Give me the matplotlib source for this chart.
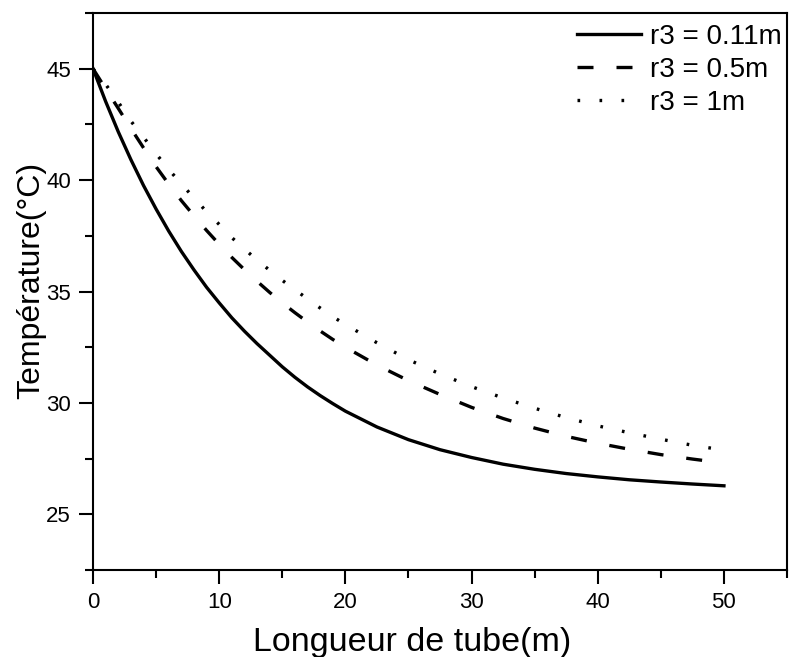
import matplotlib
matplotlib.use("Agg")
import matplotlib.pyplot as plt
from matplotlib.ticker import MultipleLocator

plt.rcParams['font.family'] = ['Liberation Sans', 'DejaVu Sans']

# tube length (m)
longueur = [0, 1, 2, 3, 4, 5, 6, 7, 8, 9, 10, 11, 12, 13, 14, 15, 16, 17, 18, 19, 20,
            22.5, 25, 27.5, 30, 32.5, 35, 37.5, 40, 42.5, 45, 47.5, 50]

# temperature (°C)
t_r011 = [45.0, 43.53, 42.17, 40.92, 39.76, 38.7, 37.71, 36.8, 35.97, 35.19, 34.49,
          33.82, 33.22, 32.66, 32.14, 31.62, 31.15, 30.72, 30.33, 29.97, 29.63,
          28.92, 28.35, 27.9, 27.55, 27.25, 27.02, 26.83, 26.68, 26.55, 26.45, 26.36, 26.28]
t_r05 = [45.0, 44.1, 43.22, 42.32, 41.45, 40.6, 39.82, 39.08, 38.4, 37.74, 37.12,
         36.53, 35.98, 35.46, 34.96, 34.49, 34.05, 33.63, 33.23, 32.85, 32.5,
         31.7, 31.0, 30.38, 29.8, 29.3, 28.87, 28.5, 28.19, 27.92, 27.68, 27.48, 27.3]
t_r1 = [45.0, 44.3, 43.5, 42.65, 41.93, 41.18, 40.48, 39.83, 39.2, 38.58, 38.01,
        37.42, 36.9, 36.42, 35.95, 35.5, 35.08, 34.67, 34.26, 33.87, 33.52,
        32.7, 31.94, 31.3, 30.73, 30.22, 29.76, 29.34, 28.97, 28.66, 28.37, 28.1, 27.88]

labels = ['r3 = 0.11m', 'r3 = 0.5m', 'r3 = 1m']

fig = plt.figure(figsize=(7.89, 6.57), dpi=100)
ax = fig.add_axes([0.1179, 0.1324, 0.9975 - 0.1179, 0.9802 - 0.1324])

ax.plot(longueur, t_r011, color='black', lw=2.4, label=labels[0])
ax.plot(longueur, t_r05, color='black', lw=2.4, dashes=(4.8, 6.9), label=labels[1])
ax.plot(longueur, t_r1, color='black', lw=2.4, dashes=(0.8, 5.8), label=labels[2])

ax.set_xlim(0, 55)
ax.set_ylim(22.5, 47.5)
ax.xaxis.set_major_locator(MultipleLocator(10))
ax.xaxis.set_minor_locator(MultipleLocator(5))
ax.yaxis.set_major_locator(MultipleLocator(5))
ax.yaxis.set_minor_locator(MultipleLocator(2.5))

ax.tick_params(which='major', direction='out', length=10, width=1.5, labelsize=16, pad=6)
ax.tick_params(which='minor', direction='out', length=6, width=1.5)
for s in ax.spines.values():
    s.set_linewidth(1.5)

ax.set_xlabel('Longueur de tube(m)', fontsize=24.5)
ax.set_ylabel('Température(°C)', fontsize=23)
ax.xaxis.set_label_coords(0.46, -0.103)
ax.yaxis.set_label_coords(-0.068, 0.52)

leg = ax.legend(loc='upper right', bbox_to_anchor=(1.0, 0.99), frameon=False, fontsize=20,
                handlelength=2.3, handletextpad=0.3, labelspacing=0.25,
                borderaxespad=0.1, borderpad=0.1)

plt.savefig('out.png', dpi=100)
